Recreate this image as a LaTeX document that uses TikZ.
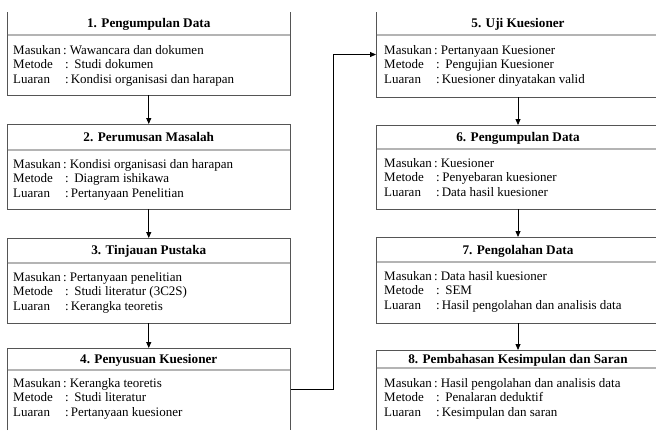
\documentclass[tikz,border=0pt]{standalone}
\usepackage{fontspec}
\setmainfont{Liberation Serif}
\usetikzlibrary{arrows.meta}
\definecolor{frame}{HTML}{555555}
\definecolor{divd}{HTML}{B4B4B4}
\tikzset{
  frm/.style={draw=frame, line width=0.9pt},
  dvd/.style={draw=divd, line width=1.3pt},
  txt/.style={inner sep=0pt, font=\fontsize{13}{15}\selectfont, text=black},
  ttl/.style={inner sep=0pt, font=\fontsize{13.2}{15}\selectfont\bfseries, text=black},
  arr/.style={draw=black, line width=0.8pt, -{Triangle[length=6pt,width=5pt]}},
  bx/.style={draw=none, inner sep=0pt, outer sep=0pt, anchor=north west},
}
% #1 name, #2 x, #3 baseline y, #4 masukan, #5 metode gap, #6 metode, #7 luaran gap, #8 luaran
\newcommand{\isi}[8]{%
  \node[txt,anchor=base west] (#1m) at (#2,#3) {\makebox[50pt][l]{Masukan}:\hspace{3pt}#4};
  \node[txt,anchor=base west] (#1t) at (#2,#3+14.6) {\makebox[52pt][l]{Metode}:\hspace{#5}#6};
  \node[txt,anchor=base west] (#1l) at (#2,#3+29.2) {\makebox[52pt][l]{Luaran}:\hspace{#7}#8};
}
\begin{document}
\begin{tikzpicture}[x=1pt,y=-1pt]
\clip (0,0) rectangle (656,434);
\fill[white] (0,0) rectangle (656,434);

% ---------- left column ----------
\node[bx, minimum width=283.5pt, minimum height=83pt] (B1) at (7,12) {};
\draw[frm] (B1.north west) -- (B1.south west) -- (B1.south east) -- (B1.north east);
\draw[dvd] (7.5,35) -- (290,35);
\node[ttl, anchor=base] (T1) at (148.75,27.5) {1. Pengumpulan Data};
\isi{b1}{13}{54}{Wawancara dan dokumen}{5.5pt}{Studi dokumen}{2pt}{Kondisi organisasi dan harapan}

\node[bx, minimum width=283.5pt, minimum height=85pt] (B2) at (7,124) {};
\draw[frm] (B2.north west) rectangle (B2.south east);
\draw[dvd] (7.5,150) -- (290,150);
\node[ttl, anchor=base] (T2) at (148.75,141) {2. Perumusan Masalah};
\isi{b2}{13}{168}{Kondisi organisasi dan harapan}{5.5pt}{Diagram ishikawa}{2pt}{Pertanyaan Penelitian}

\node[bx, minimum width=283.5pt, minimum height=85pt] (B3) at (7,238) {};
\draw[frm] (B3.north west) rectangle (B3.south east);
\draw[dvd] (7.5,263) -- (290,263);
\node[ttl, anchor=base] (T3) at (148.75,254) {3. Tinjauan Pustaka};
\isi{b3}{13}{281}{Pertanyaan penelitian}{5.5pt}{Studi literatur (3C2S)}{2pt}{Kerangka teoretis}

\node[bx, minimum width=283.5pt, minimum height=82pt] (B4) at (7,348) {};
\draw[frm] (B4.south west) -- (B4.north west) -- (B4.north east) -- (B4.south east);
\draw[dvd] (7.5,370) -- (290,370);
\node[ttl, anchor=base] (T4) at (148.75,363) {4. Penyusuan Kuesioner};
\isi{b4}{13}{387}{Kerangka teoretis}{5.5pt}{Studi literatur}{2pt}{Pertanyaan kuesioner}

% ---------- right column ----------
\node[bx, minimum width=284pt, minimum height=85pt] (B5) at (376,12) {};
\draw[frm] (B5.north west) -- (B5.south west) -- (B5.south east) -- (B5.north east);
\draw[dvd] (376.5,35) -- (660,35);
\node[ttl, anchor=base] (T5) at (518,27.5) {5. Uji Kuesioner};
\isi{b5}{384}{54}{Pertanyaan Kuesioner}{5.5pt}{Pengujian Kuesioner}{2pt}{Kuesioner dinyatakan valid}

\node[bx, minimum width=284pt, minimum height=84pt] (B6) at (376,125) {};
\draw[frm] (B6.north west) rectangle (B6.south east);
\draw[dvd] (376.5,149) -- (660,149);
\node[ttl, anchor=base] (T6) at (518,141) {6. Pengumpulan Data};
\isi{b6}{384}{167}{Kuesioner}{2.5pt}{Penyebaran kuesioner}{2pt}{Data hasil kuesioner}

\node[bx, minimum width=284pt, minimum height=86pt] (B7) at (376,237) {};
\draw[frm] (B7.north west) rectangle (B7.south east);
\draw[dvd] (376.5,262) -- (660,262);
\node[ttl, anchor=base] (T7) at (518,254) {7. Pengolahan Data};
\isi{b7}{384}{280}{Data hasil kuesioner}{5.5pt}{SEM}{2pt}{Hasil pengolahan dan analisis data}

\node[bx, minimum width=284pt, minimum height=80pt] (B8) at (376,350) {};
\draw[frm] (B8.south west) -- (B8.north west) -- (B8.north east) -- (B8.south east);
\draw[dvd] (376.5,368) -- (660,368);
\node[ttl, anchor=base] (T8) at (518,363) {8. Pembahasan Kesimpulan dan Saran};
\isi{b8}{384}{387}{Hasil pengolahan dan analisis data}{5.5pt}{Penalaran deduktif}{2pt}{Kesimpulan dan saran}

% ---------- connectors ----------
\draw[arr] (B1.south) -- (B2.north);
\draw[arr] (B2.south) -- (B3.north);
\draw[arr] (B3.south) -- (B4.north);
\draw[arr] (B5.south) -- (B6.north);
\draw[arr] (B6.south) -- (B7.north);
\draw[arr] (B7.south) -- (B8.north);
\coordinate (bend) at (333,54.5);
\draw[arr] (B4.east) -| (bend) -- (B5.west);
\end{tikzpicture}
\end{document}
